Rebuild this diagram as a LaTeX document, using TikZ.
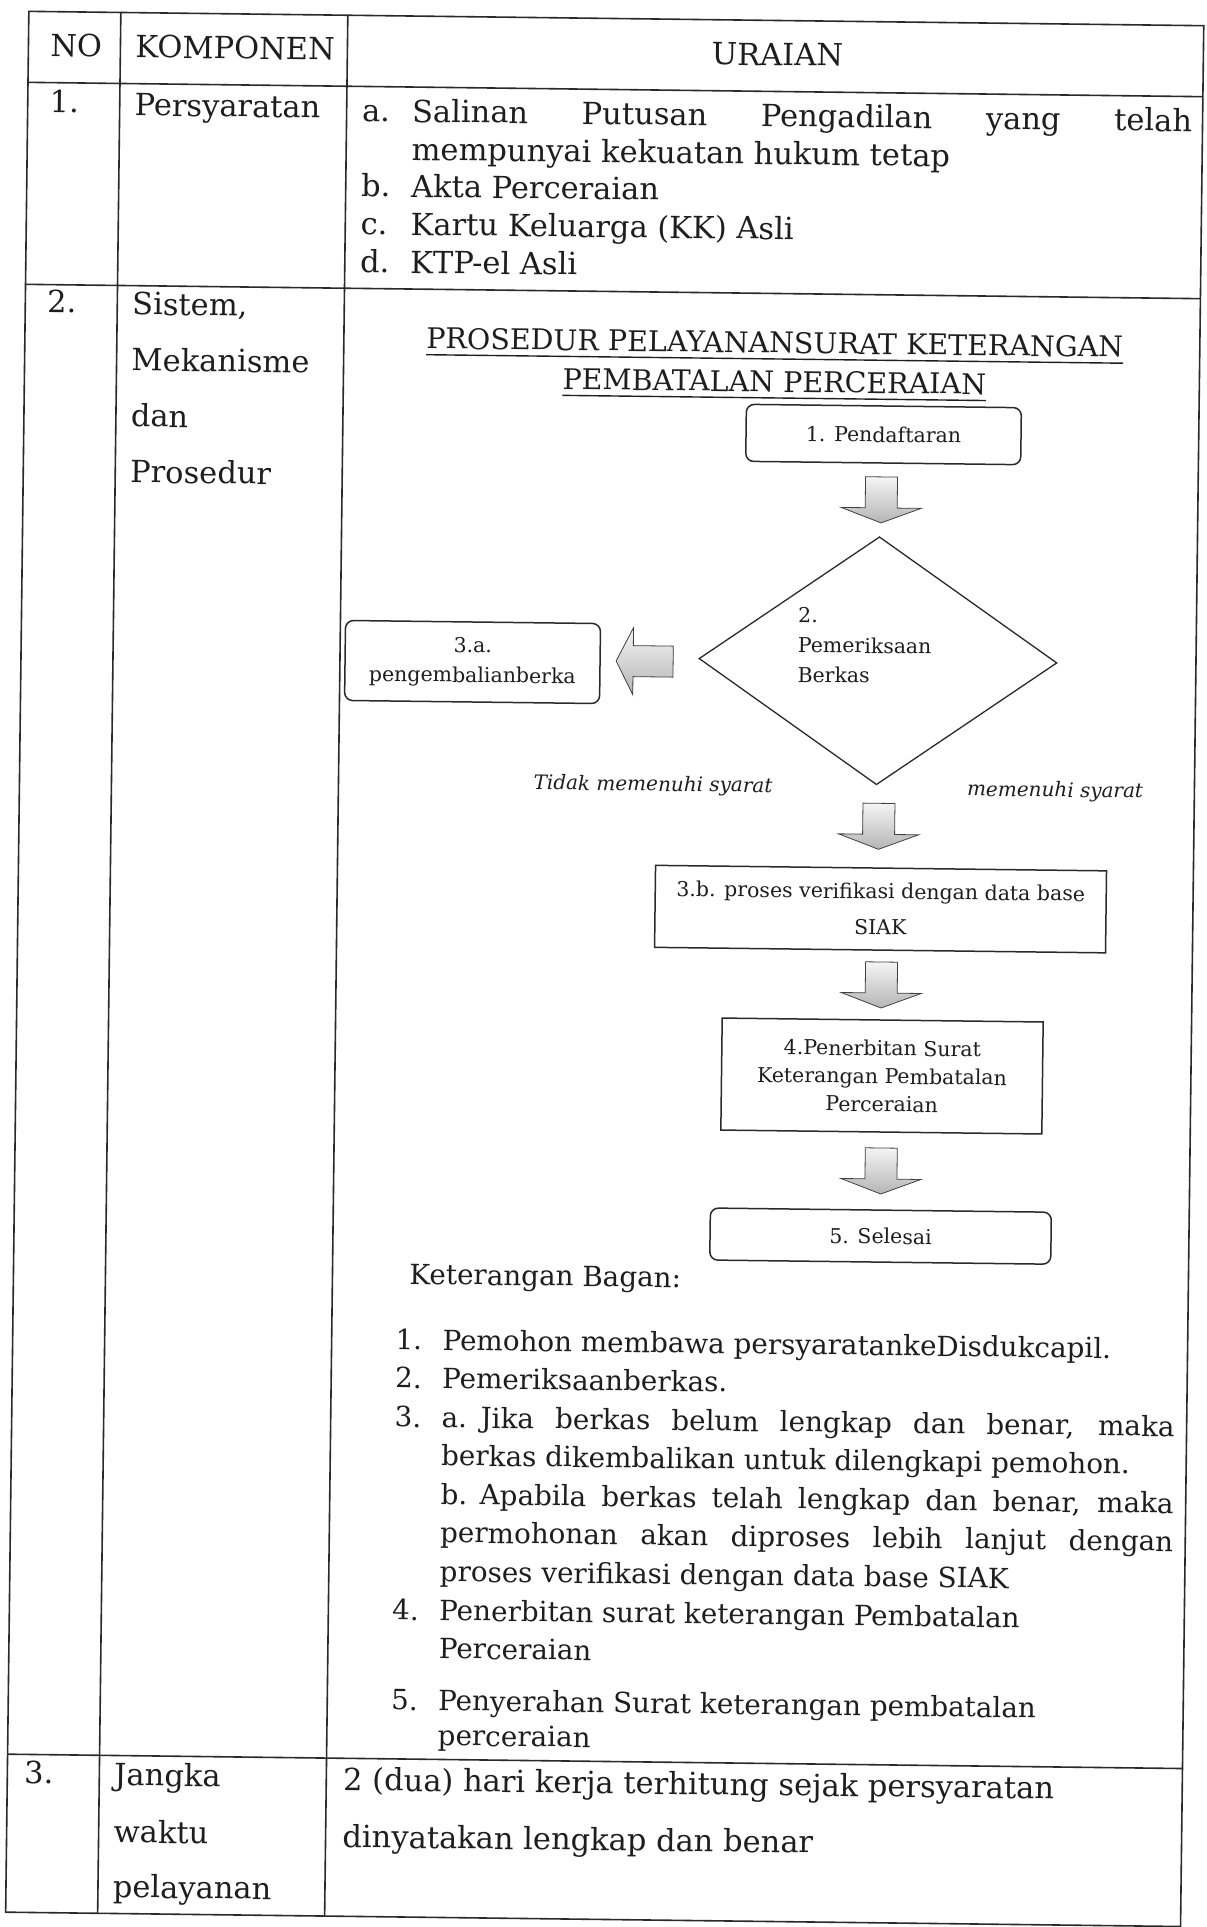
\documentclass[tikz,border=0pt]{standalone}
\usepackage{fontspec}
\setmainfont{DejaVu Serif}
\usetikzlibrary{shapes.geometric,calc}

% type sizes: table cells, legend, flow chart, title, branch labels
\newcommand\fBody{\fontsize{30.5}{38}\selectfont}
\newcommand\fLegend{\fontsize{27.8}{36}\selectfont}
\newcommand\fFlow{\fontsize{20.5}{30}\selectfont}
\newcommand\fTitle{\fontsize{28.5}{36}\selectfont}
\newcommand\fLabel{\fontsize{20}{24}\selectfont\itshape}

\definecolor{ink}{HTML}{1E1E1E}
\definecolor{rulecol}{HTML}{2A2A2A}

\tikzset{
  tablerule/.style={draw=rulecol, line width=1.6pt},
  txt/.style={anchor=base west, inner sep=0pt, outer sep=0pt, text=ink, font=\fBody},
  txtc/.style={txt, anchor=base},
  legend/.style={txt, font=\fLegend},
  stepround/.style={draw=rulecol, line width=1.5pt, rounded corners=8pt, inner sep=0pt,
    text=ink, font=\fFlow, align=center},
  steprect/.style={draw=rulecol, line width=1.5pt, inner sep=0pt,
    text=ink, font=\fFlow, align=center},
  decision/.style={diamond, draw=rulecol, line width=1.3pt, inner sep=0pt},
  condlabel/.style={anchor=base, inner sep=0pt, text=ink, font=\fLabel},
  arrowshade/.style={top color=gray!8, bottom color=gray!58, draw=gray!50!black, line width=0.8pt},
  % block arrow pointing down (y grows downwards here)
  pics/arrowdown/.style={code={
    \shade[arrowshade] (-16,-23) -- (16,-23) -- (16,8) -- (40,8) -- (0,23)
      -- (-40,8) -- (-16,8) -- cycle;
  }},
  % block arrow pointing left
  pics/arrowleft/.style={code={
    \shade[arrowshade] (28.5,-15.5) -- (28.5,15.5) -- (-11.5,15.5) -- (-11.5,33.5)
      -- (-28.5,0) -- (-11.5,-33.5) -- (-11.5,-15.5) -- cycle;
  }},
}

\begin{document}
\begin{tikzpicture}[x=1pt,y=-1pt]
\fill[white] (0,0) rectangle (1207,1927);
\useasboundingbox (0,0) rectangle (1207,1927);

\begin{scope}[rotate=-0.7, transform shape]
% ---------- table rules ----------
\draw[tablerule] (29,11) rectangle (1204,1912);
\draw[tablerule] (29,82) -- (1204,82);
\draw[tablerule] (29,284) -- (1204,284);
\draw[tablerule] (29,1754) -- (1204,1754);
\draw[tablerule] (121,11) -- (121,1912);
\draw[tablerule] (348,11) -- (348,1912);

% ---------- header ----------
\node[txt] (hNo) at (51,56) {NO};
\node[txt] (hKomp) at (136,56) {KOMPONEN};
\node[txtc] (hUraian) at (778,56) {URAIAN};

% ---------- row 1 ----------
\node[txt] (r1No) at (51,112) {1.};
\node[txt] (r1Komp) at (136,114) {Persyaratan};
\node[txt] (r1a) at (363.5,117) {a.};
\node[txt] (r1aT) at (413.5,117) {\makebox[780pt][s]{Salinan Putusan Pengadilan yang telah}};
\node[txt] (r1aT2) at (413.5,155) {mempunyai kekuatan hukum tetap};
\node[txt] (r1b) at (363.5,192) {b.};
\node[txt] (r1bT) at (413.5,192) {Akta Perceraian};
\node[txt] (r1c) at (363.5,230) {c.};
\node[txt] (r1cT) at (413.5,230) {Kartu Keluarga (KK) Asli};
\node[txt] (r1d) at (363.5,268) {d.};
\node[txt] (r1dT) at (413.5,268) {KTP-el Asli};

% ---------- row 2 ----------
\node[txt] (r2No) at (51,312) {2.};
\node[txt] (r2k1) at (136,313) {Sistem,};
\node[txt] (r2k2) at (136,369) {Mekanisme};
\node[txt] (r2k3) at (136,425) {dan};
\node[txt] (r2k4) at (136,481) {Prosedur};

% title of the flow chart
\node[txtc, font=\fTitle] (ttl1) at (779,343.5) {PROSEDUR PELAYANANSURAT KETERANGAN};
\node[txtc, font=\fTitle] (ttl2) at (779,382.5) {PEMBATALAN PERCERAIAN};
\draw[draw=ink, line width=1.4pt] ([yshift=-6pt]ttl1.base west) -- ([yshift=-6pt]ttl1.base east);
\draw[draw=ink, line width=1.4pt] ([yshift=-6pt]ttl2.base west) -- ([yshift=-6pt]ttl2.base east);

% flow chart steps
\node[stepround, minimum width=275pt, minimum height=57pt] (s1) at (888.8,423.7) {1. Pendaftaran};
\node[decision, minimum width=358pt, minimum height=248pt] (s2) at (886,650) {};
\node[anchor=west, inner sep=0pt, align=left, font=\fFlow, text=ink] (s2t) at (805.6,635)
  {2.\\Pemeriksaan\\Berkas};
\node[stepround, minimum width=255pt, minimum height=80pt] (s3a) at (480.6,656.2)
  {3.a.\\pengembalianberka};
\node[steprect, minimum width=451pt, minimum height=82pt, font=\fontsize{20.5}{36}\selectfont]
  (s3b) at (891.6,898.3) {3.b. proses verifikasi dengan data base\\SIAK};
\node[steprect, minimum width=321pt, minimum height=112pt, font=\fontsize{20.5}{28}\selectfont]
  (s4) at (895.1,1065.2) {4.Penerbitan Surat\\Keterangan Pembatalan\\Perceraian};
\node[stepround, minimum width=341pt, minimum height=52pt] (s5) at (895.6,1225.3) {5. Selesai};

% block arrows between the steps
\pic at ($(s1.south)!0.5!(s2.north)$) {arrowdown};
\pic at ($(s3a.east)!0.45!(s2.west)$) {arrowleft};
\pic at ($(s2.south)!0.5!(s3b.north)$) {arrowdown};
\pic at ($(s3b.south)!0.5!(s4.north)$) {arrowdown};
\pic at ($(s4.south)!0.5!(s5.north)$) {arrowdown};

% branch labels
\node[condlabel] (lblNo) at (662.6,783) {Tidak memenuhi syarat};
\node[condlabel] (lblYes) at (1064.7,784) {memenuhi syarat};

% legend of the chart
\node[legend] (kHead) at (425,1279) {Keterangan Bagan:};
\node[legend] (kn1) at (412,1344.6) {1.};
\node[legend] (kt1) at (459,1344.6) {Pemohon membawa persyaratankeDisdukcapil.};
\node[legend] (kn2) at (412,1383) {2.};
\node[legend] (kt2) at (459,1383) {Pemeriksaanberkas.};
\node[legend] (kn3) at (412,1422) {3.};
\node[legend] (kt3a) at (459,1422) {a.};
\node[legend] (kt3aT) at (498,1422) {\makebox[694pt][s]{Jika berkas belum lengkap dan benar, maka}};
\node[legend] (kt3a2) at (459,1460) {berkas dikembalikan untuk dilengkapi pemohon.};
\node[legend] (kt3b) at (459,1499) {b.};
\node[legend] (kt3bT) at (498,1499) {\makebox[694pt][s]{Apabila berkas telah lengkap dan benar, maka}};
\node[legend] (kt3b2) at (459,1537) {\makebox[733pt][s]{permohonan akan diproses lebih lanjut dengan}};
\node[legend] (kt3b3) at (459,1576) {proses verifikasi dengan data base SIAK};
\node[legend] (kn4) at (412,1615) {4.};
\node[legend] (kt4) at (459,1615) {Penerbitan surat keterangan Pembatalan};
\node[legend] (kt4b) at (459,1653) {Perceraian};
\node[legend] (kn5) at (412,1705) {5.};
\node[legend] (kt5) at (459,1705) {Penyerahan Surat keterangan pembatalan};
\node[legend] (kt5b) at (459,1740) {perceraian};

% ---------- row 3 ----------
\node[txt] (r3No) at (46,1783) {3.};
\node[txt] (r3k1) at (136,1784) {Jangka};
\node[txt] (r3k2) at (136,1841) {waktu};
\node[txt] (r3k3) at (136,1896) {pelayanan};
\node[txt] (r3u1) at (365,1786) {2 (dua) hari kerja terhitung sejak persyaratan};
\node[txt] (r3u2) at (365,1843) {dinyatakan lengkap dan benar};
\end{scope}
\end{tikzpicture}
\end{document}
